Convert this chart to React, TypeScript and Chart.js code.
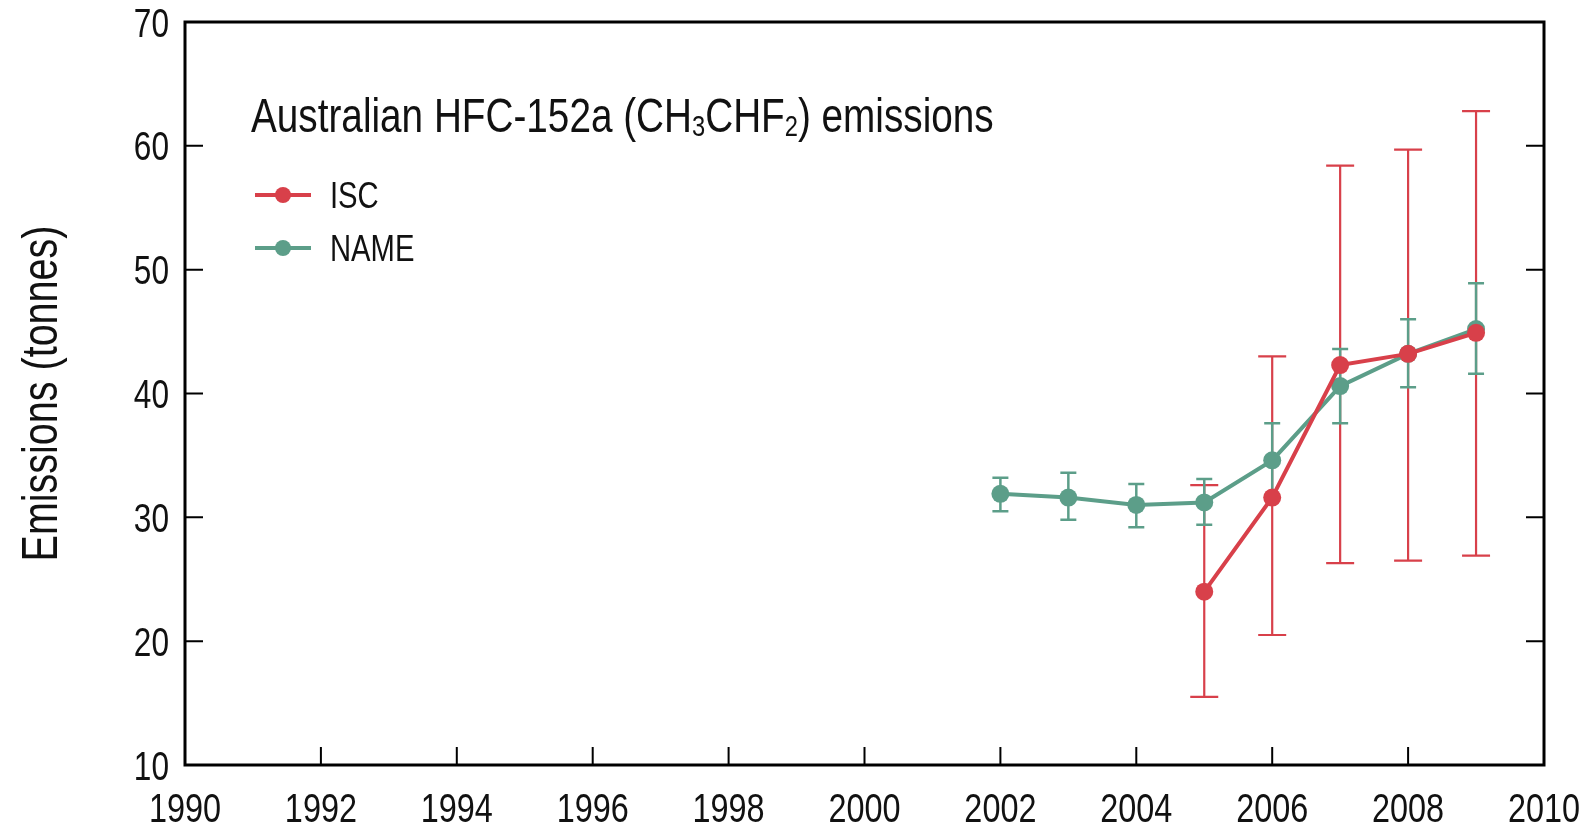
import React, { useEffect, useRef } from "react";
import { Chart, registerables } from "chart.js";

Chart.register(...registerables);

const nameYears = [2002, 2003, 2004, 2005, 2006, 2007, 2008, 2009];
const nameValues = [31.9, 31.6, 31.0, 31.2, 34.6, 40.6, 43.2, 45.2];
const nameLow = [30.5, 29.8, 29.2, 29.4, 31.6, 37.6, 40.5, 41.6];
const nameHigh = [33.2, 33.6, 32.7, 33.1, 37.6, 43.6, 46.0, 48.9];

const iscYears = [2005, 2006, 2007, 2008, 2009];
const iscValues = [24.0, 31.6, 42.3, 43.2, 44.9];
const iscLow = [15.5, 20.5, 26.3, 26.5, 26.9];
const iscHigh = [32.6, 43.0, 58.4, 59.7, 62.8];

const xTicks = [1990, 1992, 1994, 1996, 1998, 2000, 2002, 2004, 2006, 2008, 2010];
const yTicks = [10, 20, 30, 40, 50, 60, 70];

const titleParts: [string, boolean][] = [
  ["Australian HFC-152a (CH", false],
  ["3", true],
  ["CHF", false],
  ["2", true],
  [") emissions", false],
];
const yTitle = "Emissions (tonnes)";
const legendLabels = ["ISC", "NAME"];

const RED = "#d8404a";
const GREEN = "#5c9e89";
const FONT = '"Liberation Sans", Arial, sans-serif';
const SX = 0.79; // horizontal condensing to mimic a narrow Helvetica
const INK = "#111";

const errorBars = [
  { years: iscYears, low: iscLow, high: iscHigh, color: RED, width: 2.2, cap: 14 },
  { years: nameYears, low: nameLow, high: nameHigh, color: GREEN, width: 2.5, cap: 8 },
];

function narrowText(
  ctx: CanvasRenderingContext2D,
  text: string,
  x: number,
  y: number,
  size: number,
  align: CanvasTextAlign,
  baseline: CanvasTextBaseline = "alphabetic",
  rotate = 0
) {
  ctx.save();
  ctx.translate(x, y);
  if (rotate) ctx.rotate(rotate);
  ctx.scale(SX, 1);
  ctx.font = `${size}px ${FONT}`;
  ctx.textAlign = align;
  ctx.textBaseline = baseline;
  ctx.fillStyle = INK;
  ctx.fillText(text, 0, 0);
  const w = ctx.measureText(text).width * SX;
  ctx.restore();
  return w;
}

const decorPlugin = {
  id: "decor",
  beforeDatasetsDraw(chart: any) {
    const ctx = chart.ctx;
    const xs = chart.scales.x;
    const ys = chart.scales.y;
    ctx.save();
    for (const eb of errorBars) {
      ctx.strokeStyle = eb.color;
      ctx.lineWidth = eb.width;
      eb.years.forEach((yr: number, i: number) => {
        const px = xs.getPixelForValue(yr);
        const pl = ys.getPixelForValue(eb.low[i]);
        const ph = ys.getPixelForValue(eb.high[i]);
        ctx.beginPath();
        ctx.moveTo(px, pl);
        ctx.lineTo(px, ph);
        ctx.moveTo(px - eb.cap, pl);
        ctx.lineTo(px + eb.cap, pl);
        ctx.moveTo(px - eb.cap, ph);
        ctx.lineTo(px + eb.cap, ph);
        ctx.stroke();
      });
    }
    ctx.restore();
  },
  afterDraw(chart: any) {
    const ctx = chart.ctx;
    const a = chart.chartArea;
    const xs = chart.scales.x;
    const ys = chart.scales.y;
    ctx.save();
    // frame
    ctx.strokeStyle = "#000";
    ctx.lineWidth = 3;
    ctx.strokeRect(a.left, a.top, a.right - a.left, a.bottom - a.top);
    // inward ticks
    ctx.lineWidth = 2;
    const tl = 18;
    ctx.beginPath();
    for (const t of xs.ticks) {
      const px = xs.getPixelForValue(t.value);
      ctx.moveTo(px, a.bottom);
      ctx.lineTo(px, a.bottom - tl);
    }
    for (const t of ys.ticks) {
      const py = ys.getPixelForValue(t.value);
      ctx.moveTo(a.left, py);
      ctx.lineTo(a.left + tl, py);
      ctx.moveTo(a.right, py);
      ctx.lineTo(a.right - tl, py);
    }
    ctx.stroke();

    // tick labels
    for (const t of xs.ticks) {
      const px = xs.getPixelForValue(t.value);
      narrowText(ctx, String(t.value), px, a.bottom + 57, 41, "center");
    }
    for (const t of ys.ticks) {
      const py = ys.getPixelForValue(t.value);
      narrowText(ctx, String(t.value), a.left - 16, py + 14.5, 40, "right");
    }

    // axis title
    narrowText(ctx, yTitle, 57, (a.top + a.bottom) / 2, 50, "center", "alphabetic", -Math.PI / 2);

    // chart title with subscripts
    let tx = 251;
    const ty = 132;
    for (const [t, sub] of titleParts) {
      tx += narrowText(ctx, t, tx, sub ? ty + 4 : ty, sub ? 30 : 49, "left");
    }

    // legend
    const colors = [RED, GREEN];
    const ly = [195, 248];
    legendLabels.forEach((label, i) => {
      ctx.strokeStyle = colors[i];
      ctx.lineWidth = 4;
      ctx.beginPath();
      ctx.moveTo(255, ly[i]);
      ctx.lineTo(311, ly[i]);
      ctx.stroke();
      ctx.fillStyle = colors[i];
      ctx.beginPath();
      ctx.arc(283, ly[i], 8, 0, Math.PI * 2);
      ctx.fill();
      narrowText(ctx, label, 330, ly[i] + 13, 37, "left");
    });
    ctx.restore();
  },
};

function zeroPad(s: any) {
  s.paddingLeft = 0;
  s.paddingRight = 0;
  s.paddingTop = 0;
  s.paddingBottom = 0;
}

export default function App() {
  const ref = useRef<HTMLCanvasElement | null>(null);
  useEffect(() => {
    document.body.style.margin = "0";
    document.body.style.background = "#fff";
    const canvas = ref.current;
    if (!canvas) return;
    const chart = new Chart(canvas, {
      type: "line",
      data: {
        datasets: [
          {
            label: legendLabels[0],
            data: iscYears.map((x, i) => ({ x, y: iscValues[i] })),
            borderColor: RED,
            backgroundColor: RED,
            borderWidth: 4,
            pointRadius: 9,
            pointBorderWidth: 0,
            pointBackgroundColor: RED,
            tension: 0,
            order: 0,
          },
          {
            label: legendLabels[1],
            data: nameYears.map((x, i) => ({ x, y: nameValues[i] })),
            borderColor: GREEN,
            backgroundColor: GREEN,
            borderWidth: 4,
            pointRadius: 9,
            pointBorderWidth: 0,
            pointBackgroundColor: GREEN,
            tension: 0,
            order: 1,
          },
        ],
      },
      options: {
        animation: false,
        responsive: false,
        maintainAspectRatio: false,
        layout: { padding: { top: 22, right: 45, left: 0, bottom: 0 } },
        plugins: {
          legend: { display: false },
          title: { display: false },
          tooltip: { enabled: false },
        },
        scales: {
          x: {
            type: "linear",
            min: 1990,
            max: 2010,
            grid: { display: false },
            border: { display: false },
            afterBuildTicks: (s: any) => {
              s.ticks = xTicks.map((v) => ({ value: v }));
            },
            afterFit: (s: any) => {
              s.height = 64;
              zeroPad(s);
            },
            ticks: { display: false },
          },
          y: {
            type: "linear",
            min: 10,
            max: 70,
            grid: { display: false },
            border: { display: false },
            afterBuildTicks: (s: any) => {
              s.ticks = yTicks.map((v) => ({ value: v }));
            },
            afterFit: (s: any) => {
              s.width = 185;
              zeroPad(s);
            },
            ticks: { display: false },
          },
        },
      },
      plugins: [decorPlugin],
    });
    return () => chart.destroy();
  }, []);
  return <canvas ref={ref} width={1589} height={829} style={{ display: "block" }} />;
}
